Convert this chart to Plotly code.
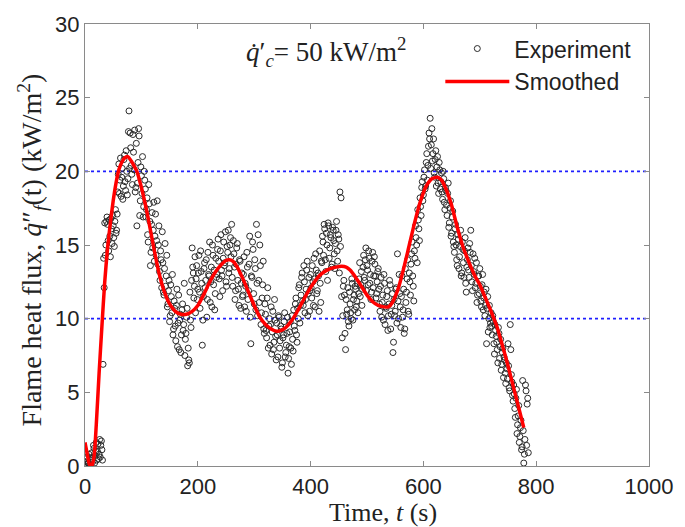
import plotly.graph_objects as go

# Measured flame heat flux (kW/m^2), sampled once per second.
# Even-second samples: t = 0, 2, ..., 786
time_even = list(range(0, 788, 2))
flux_even = [
    0.3, 0.1, 0.6, 0.2, 0.0, 0.4, 0.9, 0.3, 1.2, 0.7, 1.6, 1.0, 0.5, 1.8, 1.4, 1.1, 6.9, 12.1, 14.3, 16.6,
    16.4, 14.6, 15.6, 16.8, 15.1, 16.3, 14.9, 17.4, 16.0, 18.6, 20.5, 19.4, 18.3, 20.2, 19.0, 21.1, 18.7, 20.0, 19.5, 24.1,
    22.6, 20.4, 19.1, 21.3, 22.8, 18.9, 16.3, 20.6, 22.4, 18.0, 19.7, 21.0, 17.6, 19.4, 16.9, 18.2, 15.2, 17.8, 13.6, 16.4,
    14.8, 17.9, 15.6, 14.3, 18.0, 15.0, 13.2, 14.6, 12.1, 13.8, 11.6, 15.1, 12.9, 10.8, 11.9, 9.8, 12.3, 10.4, 8.9, 11.2,
    9.5, 10.9, 8.1, 11.6, 9.9, 7.7, 10.6, 9.2, 12.4, 8.6, 10.1, 6.8, 7.2, 11.8, 9.4, 14.8, 13.1, 12.2, 10.4, 13.6,
    12.0, 14.3, 10.7, 13.2, 8.2, 11.5, 13.8, 12.6, 10.1, 14.5, 12.9, 11.1, 13.5, 15.0, 12.3, 10.6, 14.1, 13.0, 15.4, 12.7,
    14.6, 13.3, 11.9, 15.2, 13.8, 12.5, 14.9, 16.0, 13.4, 15.5, 16.4, 12.2, 14.4, 11.3, 13.7, 15.1, 12.0, 14.0, 10.7, 13.1,
    11.6, 14.2, 12.4, 10.5, 13.5, 11.9, 15.6, 8.3, 12.8, 14.7, 11.0, 13.4, 16.4, 10.2, 12.6, 15.0, 9.6, 11.4, 13.9, 9.0,
    10.3, 8.7, 12.1, 9.5, 8.2, 10.8, 9.1, 7.9, 11.3, 8.8, 9.7, 7.4, 10.1, 8.5, 9.3, 7.0, 8.9, 10.4, 7.7, 9.0,
    6.3, 8.1, 9.8, 6.9, 8.6, 10.6, 9.2, 11.4, 8.4, 10.0, 12.3, 10.9, 12.8, 11.2, 13.6, 10.4, 12.0, 13.9, 11.7, 10.5,
    13.0, 11.4, 12.5, 14.1, 10.8, 13.3, 11.9, 12.9, 14.6, 11.1, 13.8, 15.2, 16.4, 14.0, 15.8, 12.6, 16.3, 14.8, 15.5, 13.7,
    16.0, 14.4, 15.1, 16.6, 13.9, 15.4, 18.6, 18.2, 8.7, 12.2, 11.6, 7.9, 10.3, 12.1, 9.5, 11.0, 10.0, 12.4, 11.3, 10.6,
    12.0, 11.2, 10.4, 12.7, 11.5, 13.2, 12.0, 14.3, 12.6, 14.8, 13.6, 12.3, 14.1, 13.0, 11.8, 14.5, 12.9, 13.7, 11.4, 12.5,
    13.4, 11.0, 12.2, 10.1, 11.6, 13.0, 9.6, 10.7, 11.9, 10.2, 12.6, 9.3, 10.9, 7.7, 11.3, 10.5, 12.1, 14.4, 10.0, 11.7,
    9.4, 12.9, 10.6, 9.0, 13.4, 11.8, 14.0, 10.3, 12.5, 13.7, 15.2, 12.2, 14.6, 16.3, 15.0, 17.4, 16.1, 18.2, 17.0, 19.3,
    18.4, 20.1, 19.0, 21.2, 20.4, 22.6, 23.6, 21.8, 20.7, 22.2, 19.6, 21.4, 20.3, 19.2, 20.6, 18.8, 19.9, 18.1, 19.5, 17.4,
    18.7, 17.0, 19.2, 16.5, 18.0, 15.8, 17.3, 14.9, 16.1, 15.0, 13.6, 15.4, 14.2, 16.0, 13.1, 14.7, 12.8, 15.5, 11.8, 14.0,
    13.3, 15.1, 16.0, 12.5, 14.4, 13.0, 12.1, 13.8, 11.6, 12.9, 13.4, 11.2, 12.3, 10.6, 11.8, 10.9, 8.3, 11.5, 10.0, 9.4,
    10.4, 8.9, 9.8, 7.6, 9.2, 8.4, 7.0, 9.0, 8.1, 6.5, 7.7, 6.0, 7.2, 5.6, 6.6, 8.3, 5.3, 9.6, 6.2, 4.8,
    5.5, 3.9, 4.6, 2.2, 3.4, 1.6, 2.6, 1.1, 5.8, 0.2, 1.8, 5.1, 4.2, 0.9,
]

# Odd-second samples: t = 1, 3, ..., 785
time_odd = list(range(1, 786, 2))
flux_odd = [
    0.0, 0.5, 0.2, 0.8, 0.1, 0.0, 0.6, 1.4, 0.2, 1.0, 0.4, 1.5, 0.8, 0.6, 1.7, 0.4, 14.1, 16.5, 15.0, 16.9,
    15.3, 16.7, 14.2, 16.1, 17.0, 15.5, 16.6, 15.8, 17.1, 19.8, 18.5, 20.9, 19.6, 18.1, 20.8, 19.3, 21.4, 18.4, 22.7, 20.2,
    21.6, 19.8, 22.5, 20.1, 18.6, 21.9, 19.2, 22.9, 17.0, 20.3, 18.5, 16.9, 20.0, 18.8, 17.4, 15.7, 19.1, 16.6, 14.5, 17.2,
    16.0, 13.9, 17.1, 15.3, 13.7, 16.3, 12.6, 14.0, 15.9, 11.8, 13.4, 12.2, 14.3, 11.0, 12.6, 10.2, 11.5, 13.0, 9.3, 10.7,
    8.5, 12.0, 9.7, 7.9, 10.3, 8.9, 11.0, 9.6, 7.5, 9.0, 10.7, 8.0, 7.0, 9.9, 12.6, 13.5, 11.4, 14.2, 12.7, 11.3,
    13.1, 11.8, 14.6, 12.4, 9.9, 13.4, 12.1, 14.0, 11.3, 13.0, 15.2, 12.5, 10.8, 14.3, 13.3, 11.7, 12.8, 14.7, 13.9, 11.5,
    15.7, 12.9, 14.1, 13.6, 15.9, 12.2, 14.5, 13.1, 15.0, 14.2, 12.8, 15.3, 13.5, 11.9, 14.8, 12.6, 10.9, 13.9, 12.4, 11.5,
    13.0, 10.8, 12.2, 14.5, 11.3, 13.7, 10.1, 12.9, 15.2, 11.7, 14.0, 10.6, 12.4, 15.7, 11.1, 13.6, 10.4, 12.3, 9.3, 11.0,
    9.2, 11.4, 8.0, 10.0, 9.6, 7.6, 10.5, 8.4, 9.9, 7.2, 8.9, 10.2, 8.0, 9.5, 6.7, 8.7, 9.8, 7.4, 8.2, 10.1,
    7.3, 9.1, 8.0, 10.2, 7.8, 9.5, 11.0, 8.9, 10.7, 12.1, 9.7, 11.6, 13.1, 10.9, 12.5, 11.3, 13.3, 10.2, 12.8, 11.9,
    12.1, 13.6, 10.9, 12.7, 14.4, 11.7, 13.1, 10.5, 12.4, 13.9, 15.6, 14.3, 16.1, 13.2, 15.0, 16.5, 14.1, 15.7, 13.5, 16.2,
    15.3, 13.4, 16.0, 14.6, 15.7, 13.1, 14.9, 11.5, 10.2, 12.6, 9.0, 11.3, 10.6, 9.8, 11.8, 10.4, 12.7, 9.9, 11.6, 12.2,
    10.8, 12.4, 11.7, 13.8, 12.3, 10.9, 13.5, 12.8, 14.0, 11.9, 13.3, 14.6, 12.4, 11.3, 13.9, 12.1, 14.2, 12.9, 11.7, 13.2,
    12.0, 10.5, 12.8, 11.1, 9.9, 12.4, 10.8, 11.5, 9.2, 11.0, 12.3, 10.3, 11.7, 8.4, 10.2, 12.0, 9.7, 11.2, 13.0, 10.8,
    11.5, 10.1, 12.0, 9.3, 11.1, 12.7, 10.5, 13.1, 11.6, 14.4, 12.9, 11.2, 14.1, 15.5, 13.8, 16.7, 15.3, 17.6, 18.9, 18.0,
    19.6, 18.8, 20.6, 19.4, 21.7, 22.2, 20.2, 22.9, 21.2, 19.9, 20.8, 19.0, 21.0, 18.5, 20.1, 19.3, 18.6, 20.0, 17.9, 18.9,
    17.7, 18.5, 16.2, 17.5, 15.6, 16.9, 15.2, 14.5, 16.4, 14.0, 15.7, 13.4, 14.9, 12.9, 15.2, 13.8, 14.6, 12.4, 13.5, 14.8,
    12.8, 14.5, 13.6, 11.9, 13.2, 14.1, 12.4, 11.1, 12.9, 11.7, 12.2, 10.8, 13.0, 11.4, 10.2, 12.0, 10.7, 9.1, 10.9, 9.7,
    9.5, 10.2, 8.3, 9.6, 8.8, 7.9, 9.4, 7.3, 8.6, 6.9, 8.0, 7.4, 6.3, 7.0, 5.9, 6.8, 5.1, 7.9, 5.7, 4.4,
    4.9, 3.3, 5.2, 2.8, 4.1, 2.0, 3.1, 1.3, 2.4, 0.8, 5.5, 1.4, 4.6,
]

time_exp = time_even + time_odd
flux_exp = flux_even + flux_odd

# Smoothed flame heat flux curve
time_smooth = [0, 4, 8, 12, 16, 20, 25, 30, 35, 40, 45, 50, 55, 60, 65, 70, 76, 82, 88, 92,
               100, 110, 121, 130, 140, 150, 160, 170, 180, 190, 200, 210, 220, 230, 240, 250, 256, 262, 270, 280,
               290, 300, 310, 320, 330, 340, 348, 356, 365, 375, 385, 395, 405, 415, 425, 435, 445, 455, 463, 470,
               480, 490, 500, 510, 520, 530, 538, 545, 555, 565, 575, 585, 595, 605, 615, 625, 632, 640, 650, 660,
               670, 680, 690, 700, 710, 720, 730, 740, 750, 760, 770, 778]
flux_smooth = [1.6, 0.8, 0.1, 0.0, 0.6, 2.8, 6.3, 9.5, 12.5, 14.8, 16.5, 18.0, 19.2, 20.1, 20.6, 20.9, 21.0, 20.7, 20.3, 20.0,
               18.9, 17.2, 15.0, 13.3, 11.9, 11.0, 10.5, 10.3, 10.3, 10.5, 10.9, 11.6, 12.4, 13.1, 13.6, 13.95, 14.0, 13.9, 13.5, 12.7,
               11.8, 10.9, 10.1, 9.6, 9.3, 9.15, 9.2, 9.4, 9.8, 10.4, 11.1, 11.8, 12.4, 12.9, 13.2, 13.4, 13.5, 13.55, 13.5, 13.3,
               12.8, 12.2, 11.6, 11.15, 10.9, 10.8, 10.8, 11.1, 12.0, 13.4, 15.0, 16.6, 18.0, 19.0, 19.5, 19.6, 19.4, 18.8, 17.7, 16.2,
               14.9, 13.9, 13.0, 12.3, 11.4, 10.5, 9.5, 8.2, 6.8, 5.3, 3.8, 2.6]

ref_levels = [10, 20]

serif = "Liberation Serif, Times New Roman, serif"
sans = "Liberation Sans, Arial, sans-serif"
frame = "#8a8a8a"

fig = go.Figure()

for lvl in ref_levels:
    fig.add_trace(go.Scatter(
        x=[0, 1000], y=[lvl, lvl], mode="lines",
        line=dict(color="#1f1fff", width=1.6, dash="dot"),
        showlegend=False, hoverinfo="skip",
    ))

fig.add_trace(go.Scatter(
    x=time_exp, y=flux_exp, mode="markers", name="Experiment",
    marker=dict(symbol="circle-open", size=6, color="#2b2b2b", line=dict(width=1)),
))

fig.add_trace(go.Scatter(
    x=time_smooth, y=flux_smooth, mode="lines", name="Smoothed",
    line=dict(color="#ff0000", width=3.5, shape="spline", smoothing=0.6),
))

axis_common = dict(
    showgrid=False, zeroline=False, showline=True, mirror="ticks",
    linecolor=frame, linewidth=1.3, ticks="inside", ticklen=5, tickcolor=frame,
    tickfont=dict(family=sans, size=22, color="#222222"),
)

fig.update_xaxes(range=[0, 1000], tickvals=[0, 200, 400, 600, 800, 1000], **axis_common)
fig.update_yaxes(range=[0, 30], tickvals=[0, 5, 10, 15, 20, 25, 30], **axis_common)

fig.add_annotation(
    x=0.528, y=-0.068, xref="paper", yref="paper", showarrow=False,
    text="Time, <i>t</i> (s)", font=dict(family=serif, size=26, color="#222222"),
    xanchor="center", yanchor="top",
)
fig.add_annotation(
    x=-0.093, y=0.489, xref="paper", yref="paper", showarrow=False, textangle=-90,
    text="Flame heat flux, <i>q̇</i>″<sub><i>f</i></sub>(t) (kW/m<sup>2</sup>)",
    font=dict(family=serif, size=28, color="#222222"),
    xanchor="center", yanchor="middle",
)
fig.add_annotation(
    x=428, y=28.1, xref="x", yref="y", showarrow=False,
    text="<i>q̇</i>′<sub><i>c</i></sub>= 50 kW/m<sup>2</sup>",
    font=dict(family=serif, size=27, color="#222222"),
    xanchor="center", yanchor="middle",
)

fig.update_layout(
    width=685, height=527,
    margin=dict(l=85, r=28, t=22, b=61),
    paper_bgcolor="white", plot_bgcolor="white",
    showlegend=True,
    legend=dict(
        x=0.63, y=0.993, xanchor="left", yanchor="top",
        bgcolor="rgba(0,0,0,0)", borderwidth=0,
        font=dict(family=sans, size=23, color="#222222"),
        itemwidth=64, tracegroupgap=0,
    ),
)

fig.write_html("out.html")
